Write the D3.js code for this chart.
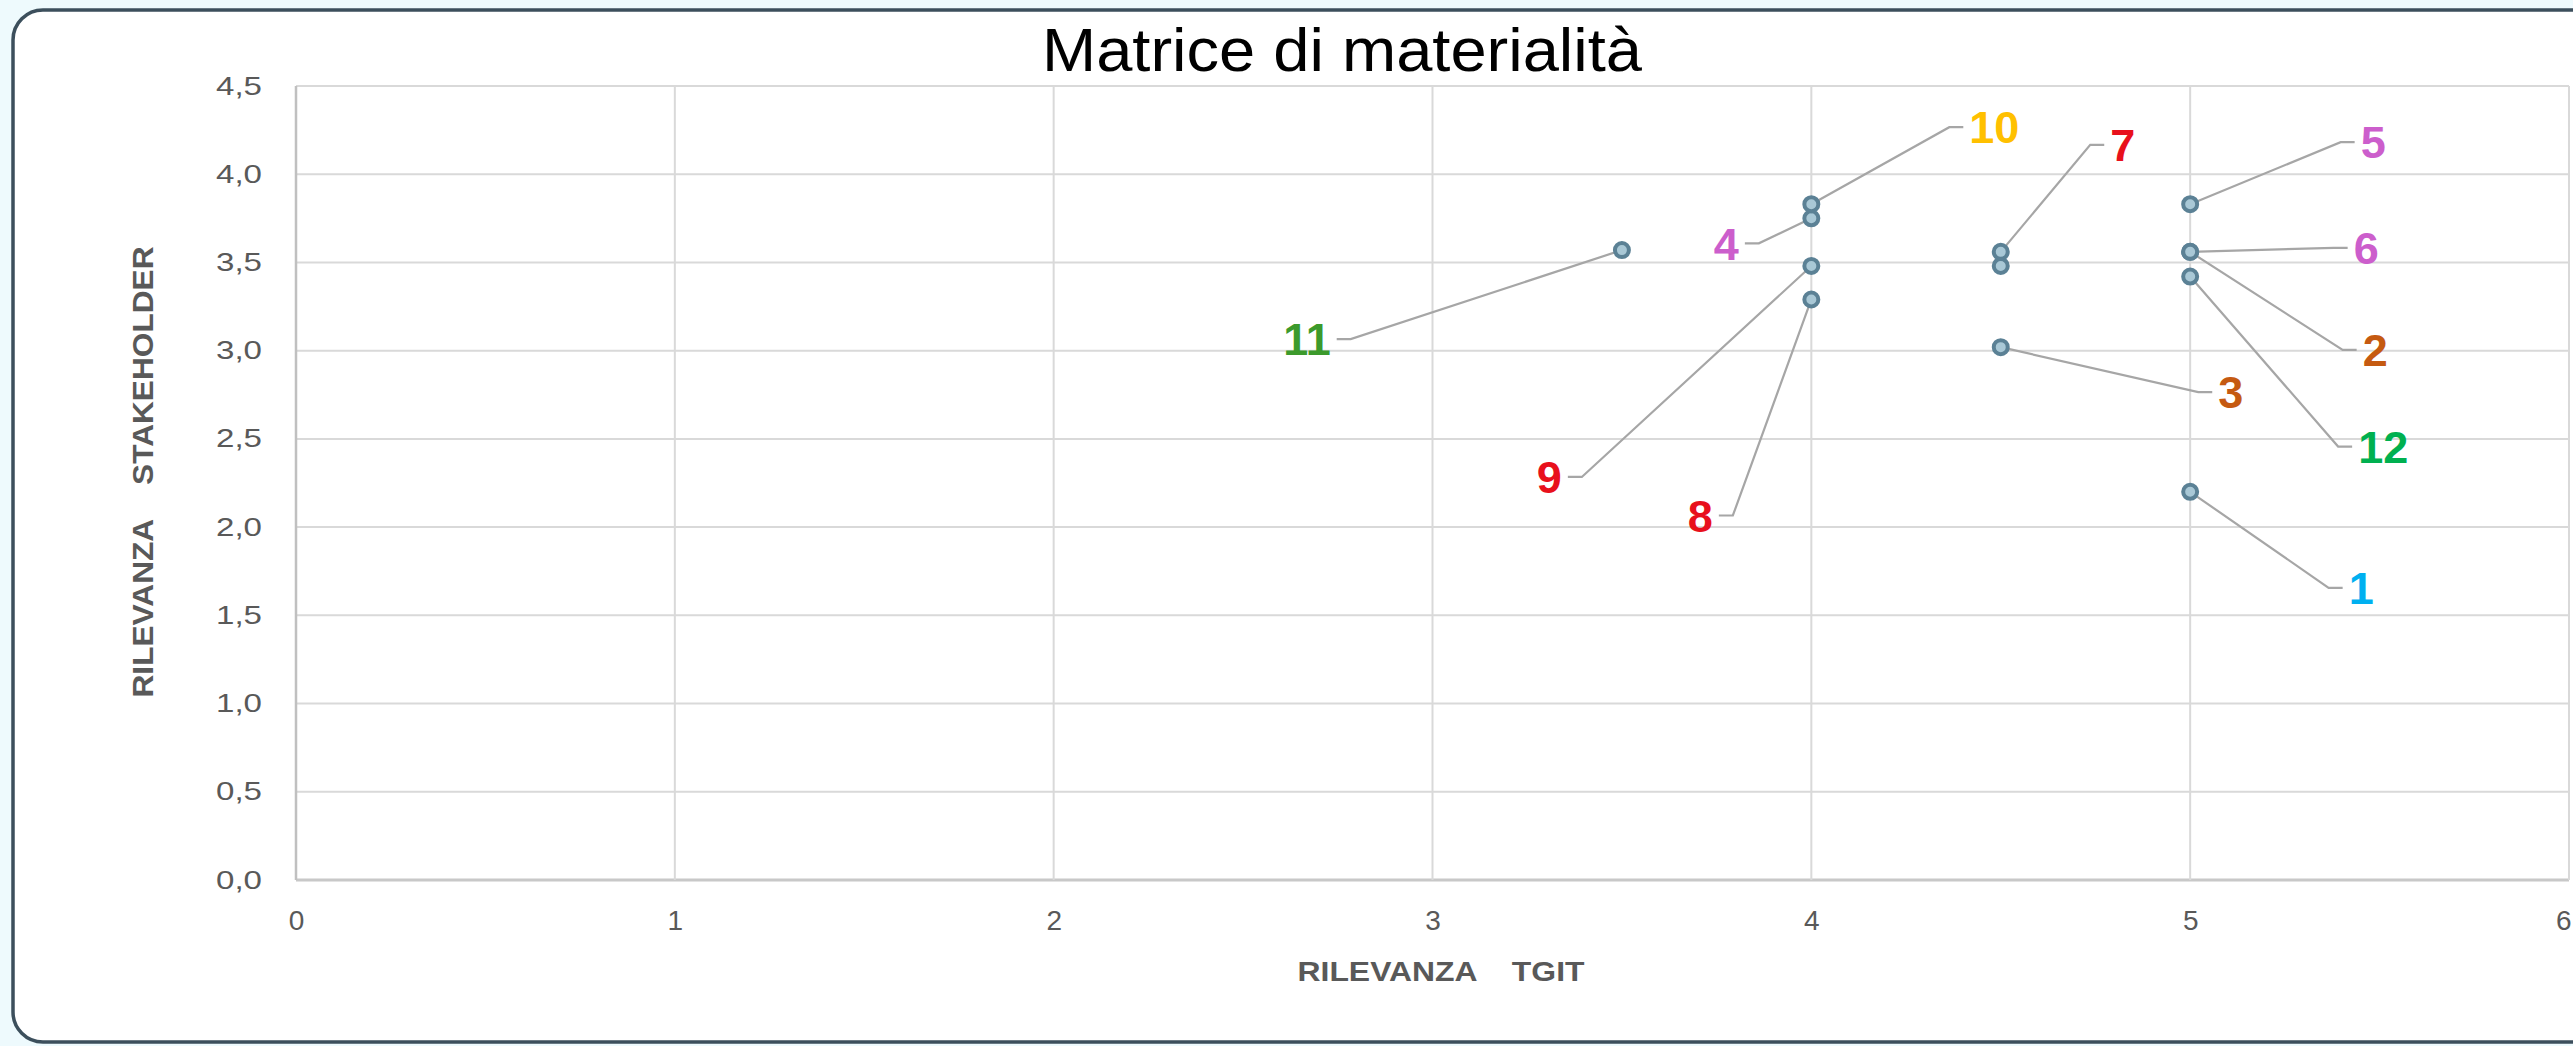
<!DOCTYPE html>
<html>
<head>
<meta charset="utf-8">
<script src="https://cdnjs.cloudflare.com/ajax/libs/d3/7.8.5/d3.min.js"></script>
<style>
  html, body { margin: 0; padding: 0; background: #eefafd; }
  svg { display: block; }
  text { font-family: "Liberation Sans", Arial, sans-serif; }
</style>
</head>
<body>
<svg id="chart" width="2573" height="1046"></svg>
<script>
// ---------- DATA ----------
const titleText = "Matrice di materialità";
const xTitle = "RILEVANZA    TGIT";
const yTitle = "RILEVANZA    STAKEHOLDER";
const ids      = ["1", "2", "3", "4", "5", "6", "7", "8", "9", "10", "11", "12", ""];
const tgit     = [5, 5, 4.5, 4, 5, 5, 4.5, 4, 4, 4, 3.5, 5, 4.5];
const stake    = [2.2, 3.56, 3.02, 3.75, 3.83, 3.56, 3.56, 3.29, 3.48, 3.83, 3.57, 3.42, 3.48];
const xTicks   = [0, 1, 2, 3, 4, 5, 6];
const yTicks   = [0, 0.5, 1, 1.5, 2, 2.5, 3, 3.5, 4, 4.5];

// ---------- STYLE / LAYOUT ----------
const labelColors = ["#00B0F0", "#C55A11", "#C55A11", "#CC5ECC", "#CC5ECC", "#CC5ECC",
                     "#E8101C", "#E8101C", "#E8101C", "#FFC000", "#3C9A2C", "#00B050", "#000"];
// label offsets (pixels) from each marker
const labelDX = [171, 185, 230, -85, 183, 176, 122, -111, -262, 183, -315, 193, 0];
const labelDY = [96, 98, 45, 25, -62, -4, -107, 216, 211, -77, 89, 170, 0];

const svg = d3.select("#chart");
const W = 2573, H = 1046;

// frame
svg.append("rect")
  .attr("x", 13).attr("y", 10)
  .attr("width", W + 40).attr("height", 1032)
  .attr("rx", 30).attr("ry", 30)
  .attr("fill", "#ffffff")
  .attr("stroke", "#3c4f5c").attr("stroke-width", 3.5);

const plot = { left: 296, right: 2569, top: 86, bottom: 880 };
const x = d3.scaleLinear().domain([0, 6]).range([plot.left, plot.right]);
const y = d3.scaleLinear().domain([0, 4.5]).range([plot.bottom, plot.top]);

// gridlines
const g = svg.append("g");
g.selectAll("line.hg").data(yTicks).join("line")
  .attr("x1", plot.left).attr("x2", plot.right)
  .attr("y1", d => y(d)).attr("y2", d => y(d))
  .attr("stroke", d => d === 0 ? "#c8c8c8" : "#d9d9d9").attr("stroke-width", d => d === 0 ? 3 : 2);
g.selectAll("line.vg").data(xTicks).join("line")
  .attr("y1", plot.top).attr("y2", plot.bottom)
  .attr("x1", d => x(d)).attr("x2", d => x(d))
  .attr("stroke", d => d === 0 ? "#c0c0c0" : "#d9d9d9").attr("stroke-width", d => d === 0 ? 2.5 : 2);

// axes (labels only, via d3 axes)
const fmt = d => d3.format(".1f")(d).replace(".", ",");
const yAxis = svg.append("g").attr("transform", `translate(${plot.left - 34},0)`)
  .call(d3.axisLeft(y).tickValues(yTicks).tickFormat(fmt).tickSize(0));
yAxis.select(".domain").remove();
yAxis.selectAll("text")
  .attr("fill", "#595959").attr("font-size", 25).attr("x", 0)
  .attr("textLength", 46).attr("lengthAdjust", "spacingAndGlyphs");

const xAxis = svg.append("g").attr("transform", `translate(0,${plot.bottom + 30})`)
  .call(d3.axisBottom(x).tickValues(xTicks).tickFormat(d3.format("d")).tickSize(0));
xAxis.select(".domain").remove();
xAxis.selectAll("text").attr("fill", "#595959").attr("font-size", 28).attr("y", 0).attr("dy", "0.71em");
xAxis.selectAll(".tick").filter(d => d === 6).select("text").attr("text-anchor", "end").attr("x", 2);

// axis titles
svg.append("text")
  .attr("x", 1441).attr("y", 981)
  .attr("text-anchor", "middle")
  .attr("font-size", 28).attr("font-weight", "bold").attr("fill", "#595959")
  .attr("textLength", 287).attr("lengthAdjust", "spacingAndGlyphs")
  .style("white-space", "pre")
  .text(xTitle);

svg.append("text")
  .attr("transform", "translate(153,472) rotate(-90)")
  .attr("text-anchor", "middle")
  .attr("font-size", 30).attr("font-weight", "bold").attr("fill", "#595959")
  .attr("textLength", 451).attr("lengthAdjust", "spacingAndGlyphs")
  .style("white-space", "pre")
  .text(yTitle);

// title
svg.append("text")
  .attr("x", 1342).attr("y", 71)
  .attr("text-anchor", "middle")
  .attr("font-size", 61).attr("fill", "#000")
  .attr("textLength", 600).attr("lengthAdjust", "spacingAndGlyphs")
  .text(titleText);

// data
const pts = ids.map((id, i) => ({
  id, xv: tgit[i], yv: stake[i], color: labelColors[i], dx: labelDX[i], dy: labelDY[i]
}));

const leaders = svg.append("g");
const labels = svg.append("g");

pts.forEach(p => {
  if (!p.id) return;
  const px = x(p.xv), py = y(p.yv);
  const lx = px + p.dx, ly = py + p.dy;
  const t = labels.append("text")
    .attr("x", lx).attr("y", ly).attr("dy", "0.36em")
    .attr("text-anchor", "middle")
    .attr("font-size", 45).attr("font-weight", "bold")
    .attr("fill", p.color)
    .text(p.id);
  const w = t.node().getComputedTextLength();
  const side = p.dx >= 0 ? -1 : 1;
  const ex = lx + side * (w / 2 + 6);
  const elx = ex + side * 14;
  leaders.append("polyline")
    .attr("points", `${px},${py} ${elx},${ly} ${ex},${ly}`)
    .attr("fill", "none").attr("stroke", "#a6a6a6").attr("stroke-width", 2.2);
});

svg.append("g").selectAll("circle").data(pts).join("circle")
  .attr("cx", d => x(d.xv)).attr("cy", d => y(d.yv))
  .attr("r", 7)
  .attr("fill", "#a9c8d6").attr("stroke", "#5b8195").attr("stroke-width", 4);
</script>
</body>
</html>
